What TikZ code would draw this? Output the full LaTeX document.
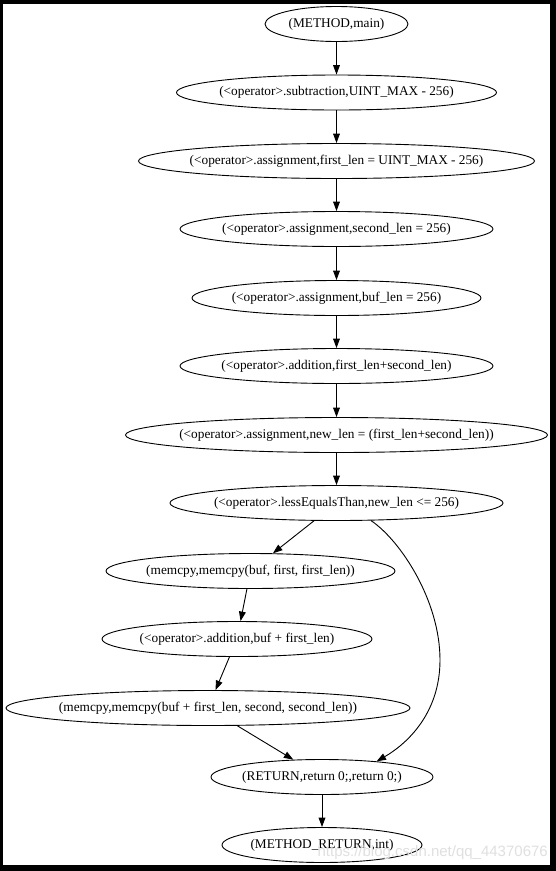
\documentclass[tikz,border=0pt]{standalone}
\usepackage{fontspec}
\setmainfont{Liberation Serif}
\newfontfamily\wmfont{Liberation Sans}
\usetikzlibrary{arrows.meta,shapes.geometric}
\newcommand\gvtxt[1]{\makebox[0pt]{#1}}
\tikzset{
  gv/.style={draw=black, line width=0.9pt, ellipse, inner sep=0pt, minimum height=35pt,
    font=\fontsize{13.3pt}{15pt}\selectfont, text=black},
  arr/.style={draw=black, line width=0.9pt, -{Triangle[length=9.5pt,width=6.8pt]}},
}
\begin{document}
\begin{tikzpicture}[x=1pt,y=-1pt]
\fill[black] (0,0) rectangle (556,871);
\fill[white] (3,4) rectangle (550,865);
\useasboundingbox (0,0) rectangle (556,871);

\node[gv, minimum width=143pt] (main) at (336.5,24) {\gvtxt{(METHOD,main)}};
\node[gv, minimum width=320pt] (sub) at (336.5,92.5) {\gvtxt{(<operator>.subtraction,UINT\_MAX - 256)}};
\node[gv, minimum width=396pt] (afirst) at (336.5,161) {\gvtxt{(<operator>.assignment,first\_len = UINT\_MAX - 256)}};
\node[gv, minimum width=313pt] (asecond) at (336.5,229) {\gvtxt{(<operator>.assignment,second\_len = 256)}};
\node[gv, minimum width=289pt] (abuf) at (336.5,298) {\gvtxt{(<operator>.assignment,buf\_len = 256)}};
\node[gv, minimum width=313pt] (addfs) at (336.5,366) {\gvtxt{(<operator>.addition,first\_len+second\_len)}};
\node[gv, minimum width=422pt] (anew) at (336.5,435) {\gvtxt{(<operator>.assignment,new\_len = (first\_len+second\_len))}};
\node[gv, minimum width=333pt] (less) at (336.5,503) {\gvtxt{(<operator>.lessEqualsThan,new\_len <= 256)}};
\node[gv, minimum width=289pt] (mc1) at (250.5,571) {\gvtxt{(memcpy,memcpy(buf, first, first\_len))}};
\node[gv, minimum width=270pt] (addbuf) at (237,639) {\gvtxt{(<operator>.addition,buf + first\_len)}};
\node[gv, minimum width=404pt] (mc2) at (208,708) {\gvtxt{(memcpy,memcpy(buf + first\_len, second, second\_len))}};
\node[gv, minimum width=222pt] (ret) at (322,777) {\gvtxt{(RETURN,return 0;,return 0;)}};
\node[gv, minimum width=200pt] (mret) at (322,845) {\gvtxt{(METHOD\_RETURN,int)}};

\draw[arr] (main) -- (sub);
\draw[arr] (sub) -- (afirst);
\draw[arr] (afirst) -- (asecond);
\draw[arr] (asecond) -- (abuf);
\draw[arr] (abuf) -- (addfs);
\draw[arr] (addfs) -- (anew);
\draw[arr] (anew) -- (less);
\draw[arr] (less) -- (mc1);
\draw[arr] (mc1) -- (addbuf);
\draw[arr] (addbuf) -- (mc2);
\draw[arr] (mc2) -- (ret);
\draw[arr] (ret) -- (mret);
\draw[arr] (less.-27) .. controls (400,540) and (440,600) .. (440,660)
  .. controls (440,715) and (405,745) .. (ret.16.6);

\node[anchor=east, inner sep=0pt, text=black!12,
  font=\wmfont\fontsize{15pt}{17pt}\selectfont] (wm) at (548,853) {https://blog.csdn.net/qq\_44370676};
\end{tikzpicture}
\end{document}
